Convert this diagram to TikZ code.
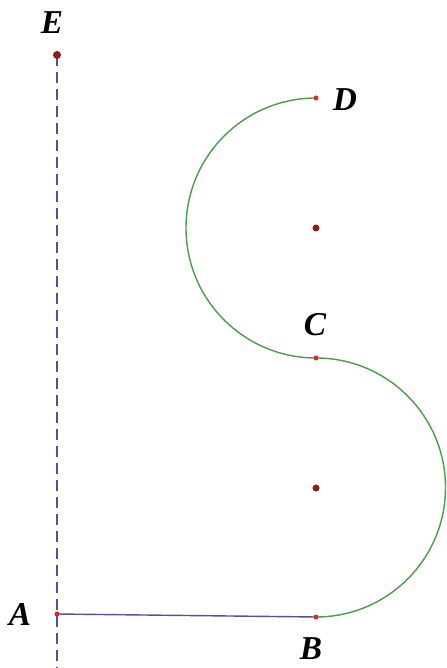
\documentclass[tikz,border=0pt]{standalone}
\usepackage{fontspec}
\usepackage{tikz}
\usetikzlibrary{positioning}
\newfontfamily\labelfont{Liberation Serif}

\definecolor{arcgreen}{RGB}{70,160,70}
\definecolor{segblue}{RGB}{80,80,170}
\definecolor{dotred}{RGB}{225,40,40}
\definecolor{ctrred}{RGB}{150,25,25}

\begin{document}
\begin{tikzpicture}[
  x=0.02cm, y=0.02cm,
  pt/.style={font=\labelfont\fontsize{19}{22}\selectfont\bfseries\itshape},
  seg/.style={segblue, line width=0.8pt},
  curve/.style={arcgreen, line width=0.8pt},
  axis/.style={segblue, line width=0.8pt, dash pattern=on 0.22cm off 0.12cm}
]
\useasboundingbox (0,0) rectangle (446,668);
% points
\coordinate (A) at (57,54);
\coordinate (B) at (316,51);
\coordinate (C) at (316,310);
\coordinate (D) at (316,570);
\coordinate (E) at (57,613);
\coordinate (O1) at (316,440);
\coordinate (O2) at (316,180);
\coordinate (foot) at (57,0);
% lines and arcs
\draw[axis] (E) -- (foot);
\draw[seg] (A) -- (B);
\draw[curve] (D) arc[start angle=90, end angle=270, radius=130];
\draw[curve] (C) arc[start angle=90, end angle=-90, radius=129.5];
% dots
\fill[ctrred] (E) circle[radius=4];
\fill[ctrred] (O1) circle[radius=3.5];
\fill[ctrred] (O2) circle[radius=3.5];
\foreach \p in {A,B,C,D}
  \fill[dotred] (\p) circle[radius=2.5];
% labels
\node[pt] (labE) at (52,645) {E};
\node[pt] (labA) at (20,54) {A};
\node[pt] (labB) at (311,19) {B};
\node[pt] (labC) at (315,343) {C};
\node[pt] (labD) at (345,568) {D};
\end{tikzpicture}
\end{document}
